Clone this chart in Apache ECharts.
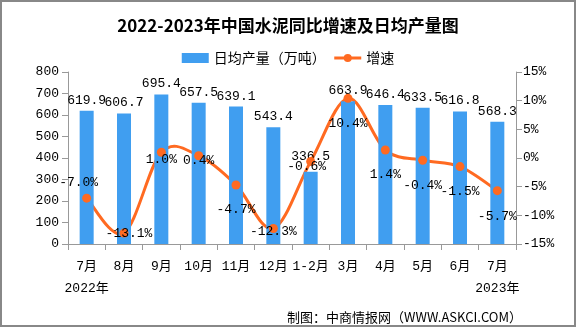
<!DOCTYPE html>
<html>
<head>
<meta charset="utf-8">
<script src="https://cdn.jsdelivr.net/npm/echarts@6/dist/echarts.min.js"></script>
<style>html,body{margin:0;padding:0;background:#fff}#c{width:576px;height:327px}</style>
</head>
<body>
<div id="c"></div>
<script>
const categories = ['7月', '8月', '9月', '10月', '11月', '12月', '1-2月', '3月', '4月', '5月', '6月', '7月'];
const yearLabels = ['2022年', '', '', '', '', '', '', '', '', '', '', '2023年'];
const output = [619.9, 606.7, 695.4, 657.5, 639.1, 543.4, 336.5, 663.9, 646.4, 633.5, 616.8, 568.3];
const growth = [-7.0, -13.1, 1.0, 0.4, -4.7, -12.3, -0.6, 10.4, 1.4, -0.4, -1.5, -5.7];
const leftTicks = [0, 800, 100];
const rightTicks = [-15, 15, 5];

// label placement style for line points
const labelStyle = [
  {position: 'top', distance: 5, offset: [-8, 0]},
  {position: 'inside', offset: [5, 0]},
  {position: 'inside', offset: [0, 7]},
  {position: 'inside', offset: [0, 5]},
  {position: 'bottom', distance: 14},
  {position: 'inside', offset: [0, 3]},
  {position: 'inside', offset: [-4, 5]},
  {position: 'bottom', distance: 14},
  {position: 'bottom', distance: 14},
  {position: 'bottom', distance: 14},
  {position: 'bottom', distance: 14},
  {position: 'bottom', distance: 15}
];

const ORANGE = '#FF6A21';
const mono = 'Liberation Mono, Noto Sans CJK SC, monospace';
const cjk = 'Noto Sans CJK SC, sans-serif';

// Catmull-Rom style smoothing (like office charts), drawn through the axes' scales
function renderSegment(params, api) {
  const i = params.dataIndex;
  const n = growth.length;
  if (i >= n - 1) return null;
  const P = k => api.coord([Math.max(0, Math.min(n - 1, k)), growth[Math.max(0, Math.min(n - 1, k))]]);
  const p0 = P(i - 1), p1 = P(i), p2 = P(i + 1), p3 = P(i + 2);
  return {
    type: 'bezierCurve',
    shape: {
      x1: p1[0], y1: p1[1], x2: p2[0], y2: p2[1],
      cpx1: p1[0] + (p2[0] - p0[0]) / 6, cpy1: p1[1] + (p2[1] - p0[1]) / 6,
      cpx2: p2[0] - (p3[0] - p1[0]) / 6, cpy2: p2[1] - (p3[1] - p1[1]) / 6
    },
    style: {stroke: ORANGE, lineWidth: 3, fill: null, lineCap: 'round'},
    silent: true
  };
}

const chart = echarts.init(document.getElementById('c'));
chart.setOption({
  animation: false,
  title: {
    text: '2022-2023年中国水泥同比增速及日均产量图',
    left: 'center', top: 12,
    textStyle: {fontSize: 17, fontWeight: 'bold', color: '#000', fontFamily: cjk}
  },
  legend: {
    top: 46, left: 'center',
    itemWidth: 27, itemHeight: 10, itemGap: 7,
    textStyle: {fontSize: 14, color: '#000', fontFamily: cjk},
    data: [
      {name: '日均产量（万吨）', icon: 'rect'},
      {name: '增速', lineStyle: {color: ORANGE, width: 3, opacity: 1}, itemStyle: {color: ORANGE}}
    ]
  },
  grid: {left: 68, right: 60, top: 72, bottom: 83},
  xAxis: {
    type: 'category',
    data: categories.map((c, i) => yearLabels[i] ? c + '\n' + yearLabels[i] : c),
    axisLine: {lineStyle: {color: '#999', width: 1}},
    axisTick: {show: true, length: 6, lineStyle: {color: '#999'}},
    axisLabel: {color: '#000', fontSize: 13, fontFamily: mono, margin: 12, lineHeight: 22, interval: 0}
  },
  yAxis: [
    {
      type: 'value', min: leftTicks[0], max: leftTicks[1], interval: leftTicks[2],
      axisLine: {show: true, lineStyle: {color: '#999'}},
      axisTick: {show: true, length: 6, lineStyle: {color: '#999'}},
      splitLine: {show: false},
      axisLabel: {color: '#000', fontSize: 13, fontFamily: mono, margin: 9}
    },
    {
      type: 'value', min: rightTicks[0], max: rightTicks[1], interval: rightTicks[2],
      axisLine: {show: true, lineStyle: {color: '#999'}},
      axisTick: {show: true, length: 6, lineStyle: {color: '#999'}},
      splitLine: {show: false},
      axisLabel: {color: '#000', fontSize: 13, fontFamily: mono, margin: 7, formatter: v => v + '%'}
    }
  ],
  series: [
    {
      name: '日均产量（万吨）', type: 'bar', yAxisIndex: 0,
      data: output.map((v, i) => i === 6 ? {value: v, label: {distance: 9}} : v), barWidth: 14,
      itemStyle: {color: '#409EF0'},
      label: {show: true, position: 'top', distance: 4, color: '#000', fontSize: 13, fontFamily: mono,
        formatter: p => p.value.toFixed(1)}
    },
    {
      name: '增速曲线', type: 'custom', yAxisIndex: 1,
      data: growth.map((v, i) => [i, v]),
      encode: {x: 0, y: 1},
      renderItem: renderSegment
    },
    {
      name: '增速', type: 'line', yAxisIndex: 1,
      data: growth.map((v, i) => ({value: v, label: labelStyle[i]})),
      symbol: 'circle', symbolSize: 9,
      lineStyle: {color: ORANGE, width: 3, opacity: 0},
      itemStyle: {color: ORANGE},
      label: {show: true, color: '#000', fontSize: 13, fontFamily: mono,
        formatter: p => p.value.toFixed(1) + '%'}
    }
  ],
  graphic: [
    {type: 'rect', shape: {x: 1, y: 1, width: 574, height: 325}, style: {fill: 'none', stroke: '#888', lineWidth: 2}, silent: true},
    {type: 'text', right: 54, top: 311, style: {text: '制图：中商情报网（WWW.ASKCI.COM）', fontSize: 13, fill: '#000', fontFamily: cjk}}
  ]
});
</script>
</body>
</html>
